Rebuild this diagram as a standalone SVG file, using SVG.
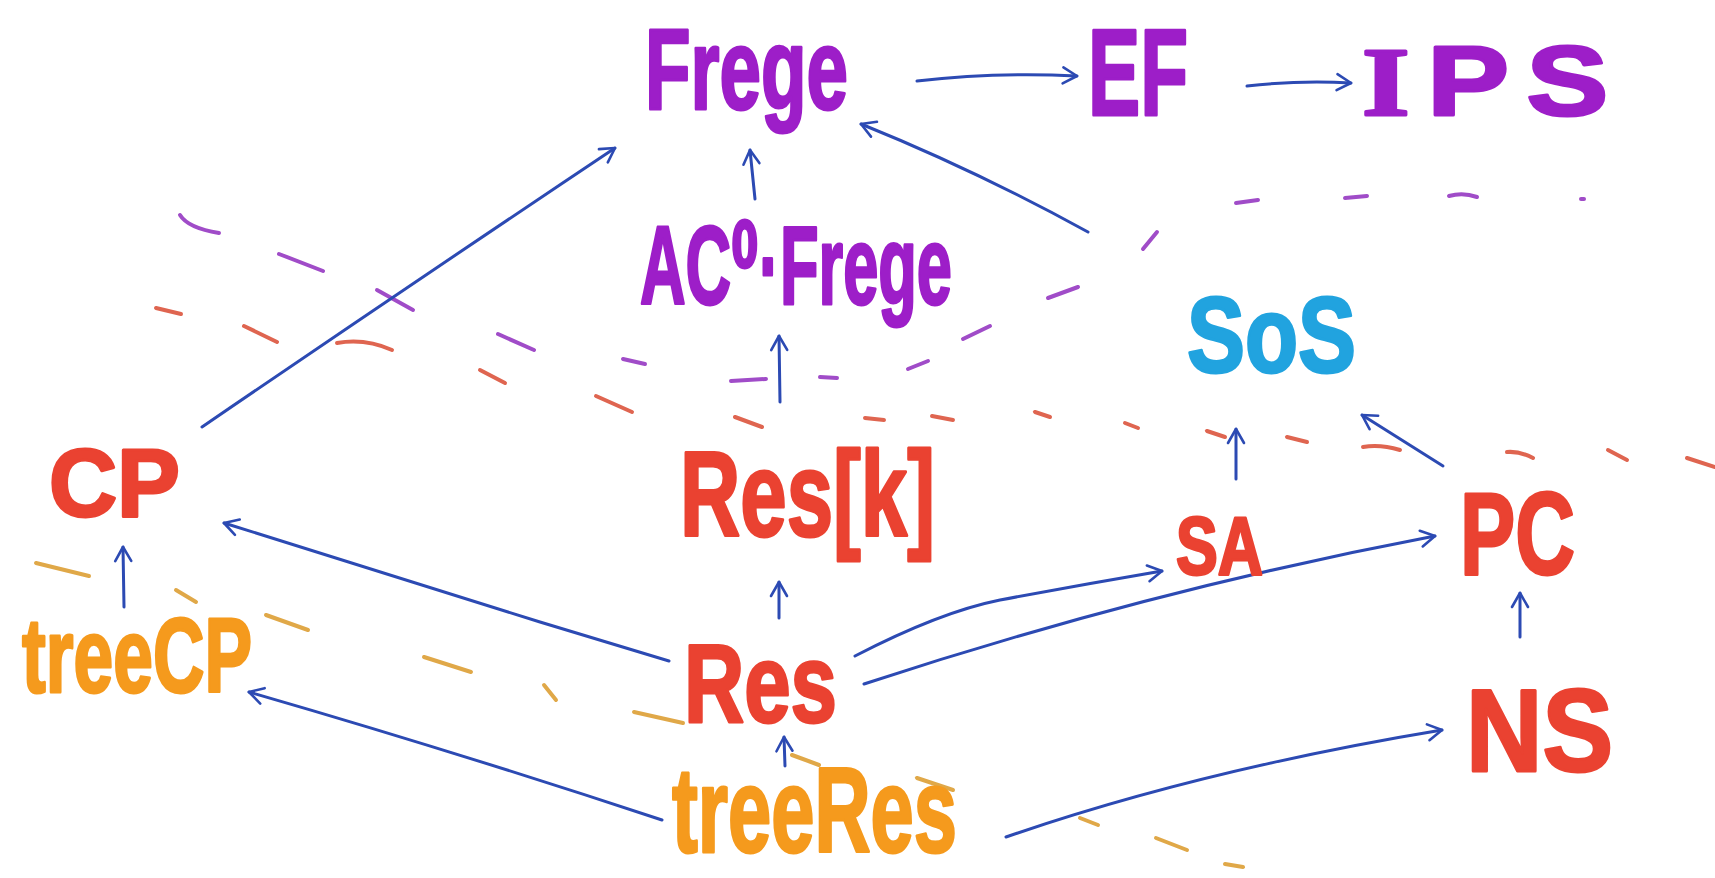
<svg xmlns="http://www.w3.org/2000/svg" width="1715" height="878" viewBox="0 0 1715 878">
<defs>
<style>
.lbl{font-family:"Liberation Sans","DejaVu Sans",Arial,sans-serif;font-weight:700;stroke-width:3;stroke-linejoin:round}
.pu{fill:#9d1ec8;stroke:#9d1ec8}
.re{fill:#ea4231;stroke:#ea4231}
.or{fill:#f59a1d;stroke:#f59a1d}
.cy{fill:#21a3df;stroke:#21a3df}
.ar{fill:none;stroke:#2c4ab3;stroke-width:3;stroke-linecap:round;stroke-linejoin:round;marker-end:url(#ah)}
.dp{fill:none;stroke:#a04cc8;stroke-width:4;stroke-linecap:round}
.dr{fill:none;stroke:#df6550;stroke-width:4;stroke-linecap:round}
.do{fill:none;stroke:#e0a848;stroke-width:4;stroke-linecap:round}
</style>
<marker id="ah" viewBox="0 0 20 20" refX="18" refY="10" markerWidth="20" markerHeight="20" markerUnits="userSpaceOnUse" orient="auto">
<path d="M4,2 L18,10 L4,18" fill="none" stroke="#2c4ab3" stroke-width="2.6" stroke-linecap="round" stroke-linejoin="round"/>
</marker>
</defs>
<rect width="1715" height="878" fill="#ffffff"/>

<g id="dashes">
<path class="dp" d="M180,215 Q188,228 219,233"/>
<path class="dp" d="M279,254 L323,271"/>
<path class="dp" d="M377,290 L413,310"/>
<path class="dp" d="M498,334 L534,350"/>
<path class="dp" d="M623,359 L645,364"/>
<path class="dp" d="M731,381 L766,379"/>
<path class="dp" d="M820,377 L837,378"/>
<path class="dp" d="M908,369 L928,361"/>
<path class="dp" d="M963,339 L990,326"/>
<path class="dp" d="M1048,298 L1078,287"/>
<path class="dp" d="M1143,249 L1157,232"/>
<path class="dp" d="M1236,203 L1258,200"/>
<path class="dp" d="M1345,198 L1367,196"/>
<path class="dp" d="M1449,196 Q1463,192 1477,197"/>
<path class="dp" d="M1581,199 L1584,199"/>

<path class="dr" d="M156,308 L181,314"/>
<path class="dr" d="M244,326 L277,342"/>
<path class="dr" d="M337,343 Q365,338 392,350"/>
<path class="dr" d="M480,370 L505,383"/>
<path class="dr" d="M596,396 L632,412"/>
<path class="dr" d="M735,417 L762,427"/>
<path class="dr" d="M865,418 L884,420"/>
<path class="dr" d="M932,416 L953,420"/>
<path class="dr" d="M1035,412 L1050,417"/>
<path class="dr" d="M1125,423 L1138,428"/>
<path class="dr" d="M1207,431 L1225,437"/>
<path class="dr" d="M1287,437 L1307,442"/>
<path class="dr" d="M1363,447 Q1380,444 1400,450"/>
<path class="dr" d="M1507,452 Q1520,451 1533,458"/>
<path class="dr" d="M1608,450 L1627,460"/>
<path class="dr" d="M1687,458 L1715,467"/>

<path class="do" d="M36,563 L89,576"/>
<path class="do" d="M176,590 L196,602"/>
<path class="do" d="M266,615 L308,630"/>
<path class="do" d="M424,657 L471,672"/>
<path class="do" d="M544,685 L556,700"/>
<path class="do" d="M634,712 L683,723"/>
<path class="do" d="M792,755 L819,765"/>
<path class="do" d="M917,778 L953,790"/>
<path class="do" d="M1080,818 L1098,825"/>
<path class="do" d="M1156,838 L1187,850"/>
<path class="do" d="M1225,864 L1243,867"/>
</g>

<g id="connectors">
<path class="ar" d="M917,81 Q995,72 1077,76"/>
<path class="ar" d="M1247,86 Q1300,80 1351,83"/>
<path class="ar" d="M755,199 L750,150"/>
<path class="ar" d="M780,402 L779,336"/>
<path class="ar" d="M1088,232 Q975,170 861,124"/>
<path class="ar" d="M202,427 Q410,285 615,148"/>
<path class="ar" d="M669,661 Q600,640 540,622 Q380,572 224,523"/>
<path class="ar" d="M124,607 L123,547"/>
<path class="ar" d="M779,618 L779,582"/>
<path class="ar" d="M785,766 L784,737"/>
<path class="ar" d="M662,820 Q450,750 249,692"/>
<path class="ar" d="M855,656 Q940,612 1000,600 Q1080,585 1162,571"/>
<path class="ar" d="M864,684 Q1150,590 1435,536"/>
<path class="ar" d="M1236,479 L1236,429"/>
<path class="ar" d="M1443,466 L1362,415"/>
<path class="ar" d="M1520,637 L1520,593"/>
<path class="ar" d="M1006,837 Q1200,770 1442,730"/>
</g>

<g id="node-frege"><text class="lbl pu" x="645" y="109" font-size="115" textLength="203" lengthAdjust="spacingAndGlyphs">Frege</text></g>
<g id="node-ef"><text class="lbl pu" x="1088" y="115" font-size="122" textLength="100" lengthAdjust="spacingAndGlyphs">EF</text></g>
<g id="node-ips"><text class="lbl pu" transform="translate(1362,115) scale(1.25,1)" x="0" y="0" font-size="98" textLength="197" lengthAdjust="spacing"><tspan font-family="Liberation Serif,serif">I</tspan>PS</text></g>
<g id="node-ac0frege"><text class="lbl pu" x="640" y="304" font-size="112" textLength="312" lengthAdjust="spacingAndGlyphs">AC⁰·Frege</text></g>
<g id="node-sos"><text class="lbl cy" x="1187" y="372" font-size="108" textLength="169" lengthAdjust="spacingAndGlyphs">SoS</text></g>
<g id="node-cp"><text class="lbl re" x="49" y="516" font-size="96" textLength="131" lengthAdjust="spacingAndGlyphs">CP</text></g>
<g id="node-resk"><text class="lbl re" x="680" y="536" font-size="120" textLength="255" lengthAdjust="spacingAndGlyphs">Res[k]</text></g>
<g id="node-sa"><text class="lbl re" x="1176" y="574" font-size="82" textLength="87" lengthAdjust="spacingAndGlyphs">SA</text></g>
<g id="node-pc"><text class="lbl re" x="1460" y="574" font-size="117" textLength="115" lengthAdjust="spacingAndGlyphs">PC</text></g>
<g id="node-treecp"><text class="lbl or" x="22" y="692" font-size="106" textLength="230" lengthAdjust="spacingAndGlyphs">treeCP</text></g>
<g id="node-res"><text class="lbl re" x="684" y="722" font-size="112" textLength="153" lengthAdjust="spacingAndGlyphs">Res</text></g>
<g id="node-ns"><text class="lbl re" x="1466" y="771" font-size="117" textLength="147" lengthAdjust="spacingAndGlyphs">NS</text></g>
<g id="node-treeres"><text class="lbl or" x="672" y="852" font-size="120" textLength="285" lengthAdjust="spacingAndGlyphs">treeRes</text></g>
</svg>
